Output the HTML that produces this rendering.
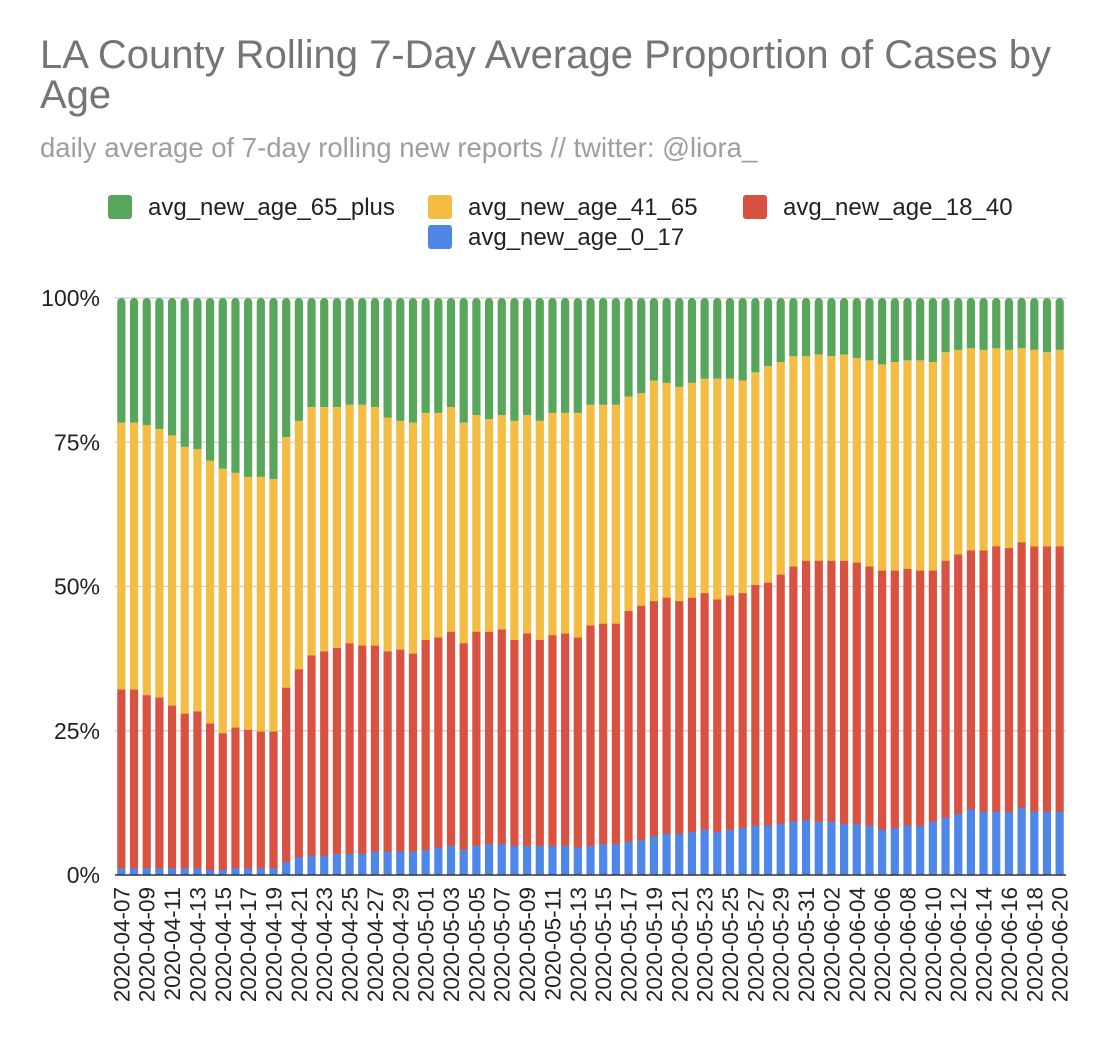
<!DOCTYPE html>
<html><head><meta charset="utf-8"><style>
body{margin:0;background:#fff;font-family:"Liberation Sans",Arial,sans-serif;}
</style></head><body>
<svg id="chart" width="1096" height="1042" xmlns="http://www.w3.org/2000/svg">
<rect width="1096" height="1042" fill="#fff"/>
<text x="40" y="68" font-size="40" fill="#757575">LA County Rolling 7-Day Average Proportion of Cases by</text>
<text x="40" y="108" font-size="40" fill="#757575">Age</text>
<text x="40" y="157" font-size="27.5" fill="#9e9e9e">daily average of 7-day rolling new reports // twitter: @liora_</text>
<g id="legend"></g>
<g id="grid"></g><g id="bars"></g><g id="axes"></g>
</svg>
<script>
const dates=[];
(function(){const d=new Date(Date.UTC(2020,3,7));for(let i=0;i<75;i++){dates.push(d.toISOString().slice(0,10));d.setUTCDate(d.getUTCDate()+1);}})();
const age0_17=[1.2,1.2,1.2,1.2,1.2,1.2,1.2,0.9,0.9,1.2,1.2,1.2,1.2,2.3,3.1,3.4,3.4,3.7,3.7,3.7,4.1,4.1,4.1,4.1,4.4,4.8,5.1,4.4,5.1,5.4,5.4,5.1,5.1,5.1,5.1,5.1,4.8,5.1,5.4,5.4,5.8,6.1,6.8,7.2,7.2,7.5,7.9,7.5,7.9,8.2,8.6,8.6,8.9,9.3,9.6,9.3,9.3,8.9,8.9,8.6,7.9,8.2,8.6,8.6,9.3,10.0,10.6,11.4,11.0,11.0,11.0,11.7,11.0,11.0,11.0];
const age18_40=[31.0,31.0,30.0,29.6,28.2,26.8,27.2,25.4,23.7,24.4,24.0,23.7,23.7,30.2,32.6,34.7,35.4,35.7,36.5,36.1,35.7,34.7,35.0,34.3,36.4,36.4,37.1,35.8,37.1,36.8,37.2,35.7,36.8,35.7,36.5,36.8,36.4,38.2,38.2,38.2,40.0,40.6,40.7,40.9,40.3,40.6,41.0,40.3,40.6,40.7,41.7,42.1,43.2,44.2,44.9,45.2,45.2,45.6,45.3,44.9,44.9,44.6,44.5,44.2,43.5,44.5,45.0,44.9,45.3,46.0,45.7,46.0,46.0,46.0,46.0];
const age41_65=[46.2,46.2,46.8,46.5,46.8,46.2,45.4,45.5,45.8,44.1,43.8,44.1,43.7,43.4,43.0,43.0,42.3,41.7,41.3,41.7,41.3,40.5,39.6,40.0,39.3,38.9,38.9,38.2,37.5,36.8,37.1,37.9,37.8,37.9,38.5,38.2,38.9,38.2,37.9,37.9,37.1,36.8,38.2,37.2,37.1,37.2,37.1,38.2,37.5,36.8,36.8,37.5,36.8,36.4,35.4,35.7,35.4,35.7,35.4,35.7,35.7,36.1,36.1,36.4,36.1,36.1,35.4,35.0,34.7,34.3,34.3,33.6,34.0,33.6,34.0];
const age65plus=[21.6,21.6,22.0,22.7,23.8,25.8,26.2,28.2,29.6,30.3,31.0,31.0,31.4,24.1,21.3,18.9,18.9,18.9,18.5,18.5,18.9,20.7,21.3,21.6,19.9,19.9,18.9,21.6,20.3,21.0,20.3,21.3,20.3,21.3,19.9,19.9,19.9,18.5,18.5,18.5,17.1,16.5,14.3,14.7,15.4,14.7,14.0,14.0,14.0,14.3,12.9,11.8,11.1,10.1,10.1,9.8,10.1,9.8,10.4,10.8,11.5,11.1,10.8,10.8,11.1,9.4,9.0,8.7,9.0,8.7,9.0,8.7,9.0,9.4,9.0];
const yTicks=[0,25,50,75,100];
const seriesNames=["avg_new_age_0_17","avg_new_age_18_40","avg_new_age_41_65","avg_new_age_65_plus"];
const colors=["#4f87e8","#d95140","#f2bd42","#58a65c"];
const NS="http://www.w3.org/2000/svg";
const plotL=115,plotR=1066,plotT=298,plotB=875;
const step=(plotR-plotL)/dates.length,barW=8.2;
function xC(i){return plotL+step*(i+0.5);}
function yS(p){return plotB-(plotB-plotT)*p/100;}
function mk(tag,attrs,parent){const e=document.createElementNS(NS,tag);for(const k in attrs)e.setAttribute(k,attrs[k]);parent.appendChild(e);return e;}
const grid=document.getElementById('grid'),bars=document.getElementById('bars'),axes=document.getElementById('axes'),legend=document.getElementById('legend');
yTicks.forEach(t=>{
  if(t>0){const l=mk('line',{x1:plotL,x2:plotR,y1:yS(t),y2:yS(t),stroke:'#cccccc','stroke-width':1.3},grid);
  
  }
  const tx=mk('text',{x:100,y:yS(t)+8,'text-anchor':'end','font-size':23,fill:'#222'},axes);
  tx.textContent=t+'%';
  
  
});
const series=[age0_17,age18_40,age41_65,age65plus];
dates.forEach((d,i)=>{
  let tot=0;series.forEach(s=>tot+=s[i]);
  let cum=0;
  series.forEach((s,k)=>{
    const v=s[i]/tot*100;const y0=yS(cum),y1=yS(cum+v);cum+=v;
    let el;
    if(k===3){const x=xC(i)-barW/2,r=barW/2;
      el=mk('path',{d:`M${x},${y0}L${x},${y1+r}A${r},${r} 0 0 1 ${x+barW},${y1+r}L${x+barW},${y0}Z`,fill:colors[k]},bars);}
    else el=mk('rect',{x:xC(i)-barW/2,y:y1,width:barW,height:y0-y1+0.3,fill:colors[k]},bars);
    
    
  });
  if(i%2===0){const tx=mk('text',{transform:`translate(${xC(i)+8},${plotB+12}) rotate(-90)`,'text-anchor':'end','font-size':22.5,fill:'#222'},axes);
    tx.textContent=d;
    
    }
});
const ax=mk('line',{x1:plotL,x2:plotR,y1:plotB,y2:plotB,stroke:'#333','stroke-width':1.5},axes);


const legItems=[[3,108,207],[2,428,207],[1,743,207],[0,428,237]];
legItems.forEach(([k,x,y])=>{
  const g=mk('g',{},legend);
  
  
  mk('rect',{x:x,y:y-12,width:24,height:24,rx:3,fill:colors[k]},g);
  const t=mk('text',{x:x+40,y:y+8,'font-size':24,fill:'#222'},g);
  t.textContent=seriesNames[k];
});
</script>
</body></html>
